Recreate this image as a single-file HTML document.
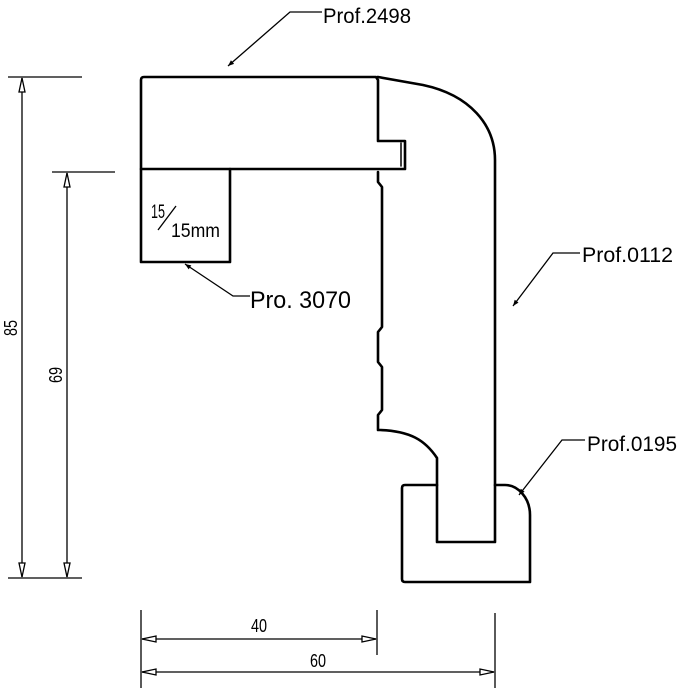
<!DOCTYPE html>
<html><head><meta charset="utf-8"><style>
html,body{margin:0;padding:0;background:#fff;width:680px;height:689px;overflow:hidden}
svg{display:block}
text{font-family:"Liberation Sans",sans-serif;fill:#000}
</style></head><body>
<svg width="680" height="689" viewBox="0 0 680 689" xmlns="http://www.w3.org/2000/svg">
<defs>
<marker id="a" viewBox="0 0 10 10" refX="10" refY="5" markerWidth="10" markerHeight="6" orient="auto" markerUnits="userSpaceOnUse"><path d="M0,1 L10,5 L0,9 Z" fill="#000"/></marker>
</defs>
<g fill="none" stroke="#000" stroke-width="2.6" stroke-linejoin="round" stroke-linecap="round">
<path d="M141,80 Q141,77 144,77 L376,77 L378,80 L378,141 L405,141 L405,169 L141,169 Z"/>
<path d="M401,143 L401,166" stroke-width="1.5"/>
<path d="M141,169 L141,262 L230,262 L230,169"/>
<path d="M378,77 L423,85 C470,95 495,125 495,160 L495,542 L437,542 L437,458 C425,440 410,431 380,430 L378,430 L378,415 L382,410 L382,367 L378,362 L378,332 L382,327 L382,187 L378,182 L378,172"/>
<path d="M437,485 L405,485 Q402,485 402,488 L402,579 Q402,582 405,582 L530,582 L530,515 C530,498 518,485 505,485 L495,485"/>
</g>
<text x="151" y="218" font-size="19" textLength="14" lengthAdjust="spacingAndGlyphs">15</text>
<line x1="158" y1="230" x2="176" y2="206" stroke="#000" stroke-width="1.3"/>
<text x="171" y="237" font-size="19" textLength="49" lengthAdjust="spacingAndGlyphs">15mm</text>
<g stroke="#000" stroke-width="1.3" fill="none">
<line x1="8" y1="77" x2="82" y2="77"/>
<line x1="8" y1="578" x2="82" y2="578"/>
<line x1="52" y1="172" x2="115" y2="172"/>
<line x1="22" y1="78" x2="22" y2="577"/>
<line x1="67" y1="173" x2="67" y2="577"/>
<path d="M22,78 L19,92 L25,92 Z M22,577 L19,563 L25,563 Z M67,173 L64,187 L70,187 Z M67,577 L64,563 L70,563 Z" fill="#fff"/>
<line x1="141" y1="610" x2="141" y2="688"/>
<line x1="377" y1="610" x2="377" y2="655"/>
<line x1="495" y1="613" x2="495" y2="688"/>
<line x1="142" y1="639" x2="376" y2="639"/>
<line x1="142" y1="672" x2="494" y2="672"/>
<path d="M142,639 L156,636 L156,642 Z M376,639 L362,636 L362,642 Z M142,672 L156,669 L156,675 Z M494,672 L480,669 L480,675 Z" fill="#fff"/>
<polyline points="322,12 290,12 228,66" marker-end="url(#a)"/>
<polyline points="580,253 553,253 513,306" marker-end="url(#a)"/>
<polyline points="585,440 562,440 519,495" marker-end="url(#a)"/>
<polyline points="250,296 233,296 185,264" marker-end="url(#a)"/>
</g>
<text x="323" y="23" font-size="21" textLength="88" lengthAdjust="spacingAndGlyphs">Prof.2498</text>
<text x="582" y="262" font-size="21" textLength="91" lengthAdjust="spacingAndGlyphs">Prof.0112</text>
<text x="587" y="451" font-size="21" textLength="90" lengthAdjust="spacingAndGlyphs">Prof.0195</text>
<text x="250" y="308" font-size="24" textLength="101" lengthAdjust="spacingAndGlyphs">Pro. 3070</text>
<text x="251" y="632" font-size="18" textLength="16" lengthAdjust="spacingAndGlyphs">40</text>
<text x="310" y="667" font-size="18" textLength="16" lengthAdjust="spacingAndGlyphs">60</text>
<text x="0" y="0" font-size="18" textLength="16" lengthAdjust="spacingAndGlyphs" transform="translate(17,336) rotate(-90)">85</text>
<text x="0" y="0" font-size="18" textLength="16" lengthAdjust="spacingAndGlyphs" transform="translate(62,383) rotate(-90)">69</text>
</svg>
</body></html>
